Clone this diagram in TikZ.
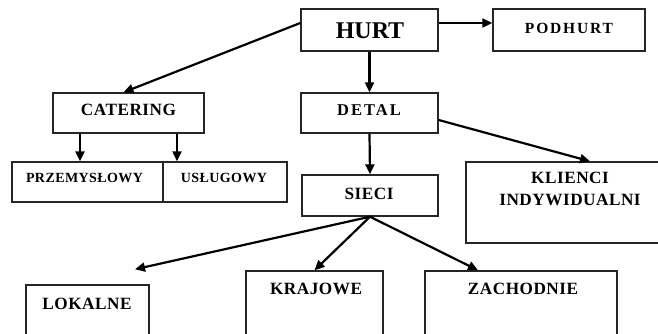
\documentclass[tikz,border=0pt]{standalone}
\usepackage{fontspec}
\setmainfont{Liberation Serif}
\usetikzlibrary{arrows.meta,calc}
\begin{document}
\begin{tikzpicture}[x=1pt,y=-1pt,
  box/.style={draw=black!85,line width=1.4pt,inner sep=0pt,fill=none},
  txt/.style={inner sep=0pt,font={\fontsize{#1}{22}\selectfont\bfseries\addfontfeature{LetterSpace=3}}},
  wtxt/.style={inner sep=0pt,font={\fontsize{#1}{22}\selectfont\bfseries\addfontfeature{LetterSpace=12}}},
  arr/.style={line width=2.2pt,-{Triangle[length=10pt,width=9pt]}}]
\useasboundingbox (0,0) rectangle (658,334);
\clip (0,0) rectangle (658,334);
% boxes
\node[box,minimum width=137pt,minimum height=42pt] (hurt) at (369.5,30) {};
\node[box,minimum width=152pt,minimum height=42pt] (podhurt) at (569,30) {};
\node[box,minimum width=151pt,minimum height=40pt] (catering) at (128.5,113) {};
\node[box,minimum width=137pt,minimum height=40pt] (detal) at (369.5,113) {};
\node[box,minimum width=151pt,minimum height=40pt] (przem) at (87.5,182) {};
\node[box,minimum width=124pt,minimum height=40pt] (uslug) at (225,182) {};
\node[box,minimum width=136pt,minimum height=41pt] (sieci) at (370,195.5) {};
\node[box,minimum width=208pt,minimum height=81pt] (klienci) at (570,202.5) {};
\node[box,minimum width=123pt,minimum height=70pt] (lokalne) at (87.5,320) {};
\node[box,minimum width=137pt,minimum height=84pt] (krajowe) at (314.5,313) {};
\node[box,minimum width=192pt,minimum height=84pt] (zach) at (521,313) {};
% texts
\node[inner sep=0pt,font=\fontsize{24}{26}\selectfont\bfseries] (thurt) at (370,31) {HURT};
\node[wtxt=15.5] (tpod) at (569,28) {PODHURT};
\node[txt=17.2] (tcat) at (128.5,110) {CATERING};
\node[wtxt=16.5] (tdet) at (369,110) {DETAL};
\node[txt=14] (tprz) at (84.5,177.5) {PRZEMYSŁOWY};
\node[txt=14] (tusl) at (224,177.5) {USŁUGOWY};
\node[txt=17.2] (tsie) at (369,193.5) {SIECI};
\node[txt=17.2,align=center] (tkli) at (570,189) {KLIENCI\\INDYWIDUALNI};
\node[txt=17.2] (tlok) at (87,304) {LOKALNE};
\node[txt=17.2] (tkra) at (316,289) {KRAJOWE};
\node[txt=17.2] (tzac) at (523,289) {ZACHODNIE};
% connector end points
\coordinate (lokin) at ($(lokalne.north)+(47.5,-15)$);
\coordinate (catA) at ($(catering.south)+(-48.5,0)$);
\coordinate (catB) at ($(catering.south)+(48.5,0)$);
\coordinate (przA) at (catA |- przem.north);
\coordinate (uslB) at (catB |- uslug.north);
% arrows
\draw[arr] ($(hurt.east)+(0,-7)$) -- ($(podhurt.west)+(0,-7)$);
\draw[arr] ($(hurt.west)+(0,-7)$) -- ($(catering.north)+(-5,0)$);
\draw[arr] (hurt.south) -- (detal.north);
\draw[arr] (catA) -- (przA);
\draw[arr] (catB) -- (uslB);
\draw[arr] (detal.south) -- (sieci.north);
\draw[arr] ($(detal.east)+(0,7)$) -- ($(klienci.north)+(20,0)$);
\draw[arr] (sieci.south) -- (lokin);
\draw[arr] (sieci.south) -- (krajowe.north);
\draw[arr] (sieci.south) -- ($(zach.north)+(-43,0)$);
\end{tikzpicture}
\end{document}
